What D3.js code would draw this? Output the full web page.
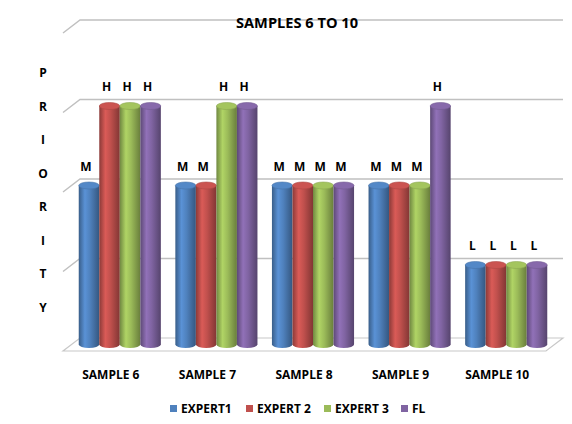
<!DOCTYPE html>
<html lang="en">
<head>
  <meta charset="UTF-8" />
  <title>Samples 6 to 10</title>
  <style>
    body {
      margin: 0;
      background: #fff;
    }
    svg {
      display: block;
      font-family: "Open Sans", sans-serif;
      font-weight: bold;
    }
  </style>
</head>
<body>
  <svg width="572" height="424"></svg>

  <script src="https://cdnjs.cloudflare.com/ajax/libs/d3/7.8.5/d3.min.js"></script>
  <script>
    // chart data
    const categories = ["SAMPLE 6", "SAMPLE 7", "SAMPLE 8", "SAMPLE 9", "SAMPLE 10"];
    const series = ["EXPERT1", "EXPERT 2", "EXPERT 3", "FL"];
    const expert1 = [2, 2, 2, 2, 1];
    const expert2 = [3, 2, 2, 2, 1];
    const expert3 = [3, 3, 2, 2, 1];
    const fl = [3, 3, 2, 3, 1];
    const levelLetters = ["", "L", "M", "H"];
    const yTicks = [0, 1, 2, 3, 4];
    const axisTitle = "PRIORITY";

    const values = [expert1, expert2, expert3, fl];
    const colors = ["#4f81bd", "#c0504d", "#9bbb59", "#8064a2"];

    const svg = d3.select("svg");
    const defs = svg.append("defs");

    // back wall + depth offset of the 3d floor
    const depthX = -17, depthY = 13;
    const x = d3.scaleBand().domain(categories).range([80, 563])
      .paddingInner(0.15).paddingOuter(0.075);
    const xs = d3.scaleBand().domain(series).range([0, x.bandwidth()]);
    const y = d3.scaleLinear().domain([0, 4]).range([338, 20]);

    // gradients for the cylinders
    colors.forEach((c, i) => {
      const base = d3.color(c);
      const g = defs.append("linearGradient").attr("id", "cyl" + i);
      g.append("stop").attr("offset", "0%").attr("stop-color", base.darker(0.9));
      g.append("stop").attr("offset", "30%").attr("stop-color", base.brighter(0.35));
      g.append("stop").attr("offset", "55%").attr("stop-color", base);
      g.append("stop").attr("offset", "100%").attr("stop-color", base.darker(1.1));
    });

    // floor
    const x0 = 80, x1 = 563;
    svg.append("path")
      .attr("d", `M${x0},${y(0)}L${x1},${y(0)}L${x1 + depthX},${y(0) + depthY}L${x0 + depthX},${y(0) + depthY}Z`)
      .attr("fill", "#fff")
      .attr("stroke", "#c8c8c8")
      .attr("stroke-width", 1.2);

    // gridlines on back wall with left diagonals
    const grid = svg.append("g").attr("stroke", "#c0c0c0").attr("stroke-width", 1.5).attr("fill", "none");
    yTicks.filter(t => t > 0).forEach(t => {
      grid.append("path")
        .attr("d", `M${x0 + depthX},${y(t) + depthY}L${x0},${y(t)}L${x1},${y(t)}`);
    });

    // cylinders
    const rx = xs.bandwidth() / 2, ry = 3.5;
    const midX = depthX / 2, midY = depthY / 2;
    const bars = svg.append("g");
    const labels = svg.append("g")
      .attr("font-size", 12)
      .attr("fill", "#000")
      .attr("text-anchor", "middle");

    series.forEach((s, si) => {
      categories.forEach((cat, ci) => {
        const v = values[si][ci];
        const left = x(cat) + xs(s) + midX;
        const right = left + xs.bandwidth();
        const cx = left + rx;
        const top = y(v) + midY;
        const bottom = y(0) + midY;
        bars.append("path")
          .attr("d", `M${left},${top}L${left},${bottom}A${rx},${ry} 0 0 0 ${right},${bottom}L${right},${top}Z`)
          .attr("fill", `url(#cyl${si})`);
        bars.append("ellipse")
          .attr("cx", cx).attr("cy", top)
          .attr("rx", rx).attr("ry", ry)
          .attr("fill", d3.color(colors[si]).brighter(0.15))
          .attr("stroke", d3.color(colors[si]).darker(0.3))
          .attr("stroke-width", 0.6);
        labels.append("text")
          .attr("x", cx - 3)
          .attr("y", top - 15)
          .text(levelLetters[v]);
      });
    });

    // category labels
    svg.append("g")
      .attr("font-size", 12)
      .attr("text-anchor", "middle")
      .selectAll("text")
      .data(categories)
      .join("text")
      .attr("x", d => x(d) + x.bandwidth() / 2 + depthX / 2 - 9)
      .attr("y", 379)
      .text(d => d);

    // title
    svg.append("text")
      .attr("x", 297)
      .attr("y", 28)
      .attr("font-size", 14.6)
      .attr("text-anchor", "middle")
      .text("SAMPLES 6 TO 10");

    // vertical axis title, one letter per line
    svg.append("g")
      .attr("font-size", 12)
      .attr("text-anchor", "middle")
      .selectAll("text")
      .data(axisTitle.split(""))
      .join("text")
      .attr("x", 43)
      .attr("y", (d, i) => 77 + i * 33.5)
      .text(d => d);

    // legend
    const legendX = [170, 246, 324, 401];
    const legend = svg.append("g").attr("font-size", 12);
    series.forEach((s, i) => {
      legend.append("rect")
        .attr("x", legendX[i]).attr("y", 405)
        .attr("width", 7).attr("height", 7)
        .attr("fill", colors[i]);
      legend.append("text")
        .attr("x", legendX[i] + 11)
        .attr("y", 412.5)
        .text(s);
    });
  </script>
</body>
</html>
